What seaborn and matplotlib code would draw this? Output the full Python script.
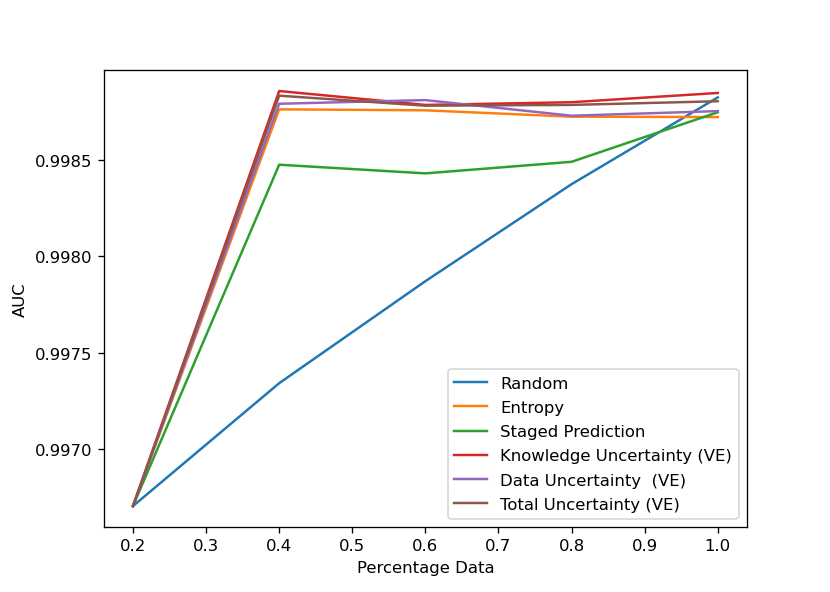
import pandas as pd
import matplotlib
matplotlib.use("Agg")
import matplotlib.pyplot as plt
import seaborn as sns

# data
pct = [0.2, 0.4, 0.6, 0.8, 1.0]
random_auc = [0.996706, 0.997343, 0.997872, 0.998375, 0.998825]
entropy_auc = [0.996706, 0.998763, 0.998758, 0.998725, 0.998723]
staged_auc = [0.996706, 0.998476, 0.998431, 0.998491, 0.998748]
knowledge_auc = [0.996706, 0.998858, 0.998786, 0.998800, 0.998848]
data_auc = [0.996706, 0.998792, 0.998811, 0.998730, 0.998754]
total_auc = [0.996706, 0.998834, 0.998782, 0.998786, 0.998805]

names = ["Random", "Entropy", "Staged Prediction", "Knowledge Uncertainty (VE)",
         "Data Uncertainty  (VE)", "Total Uncertainty (VE)"]
series = [random_auc, entropy_auc, staged_auc, knowledge_auc, data_auc, total_auc]

colors = sns.color_palette("tab10")

fig, ax = plt.subplots(figsize=(7, 5))
for i, (name, vals) in enumerate(zip(names, series)):
    df = pd.DataFrame({"x": pct, "y": vals})
    sns.lineplot(data=df, x="x", y="y", color=colors[i], label=name, ax=ax)

ax.set_xlabel("Percentage Data")
ax.set_ylabel("AUC")
ax.legend(loc="lower right", labelspacing=0.56)

plt.savefig("out.png", dpi=830 / 7)
